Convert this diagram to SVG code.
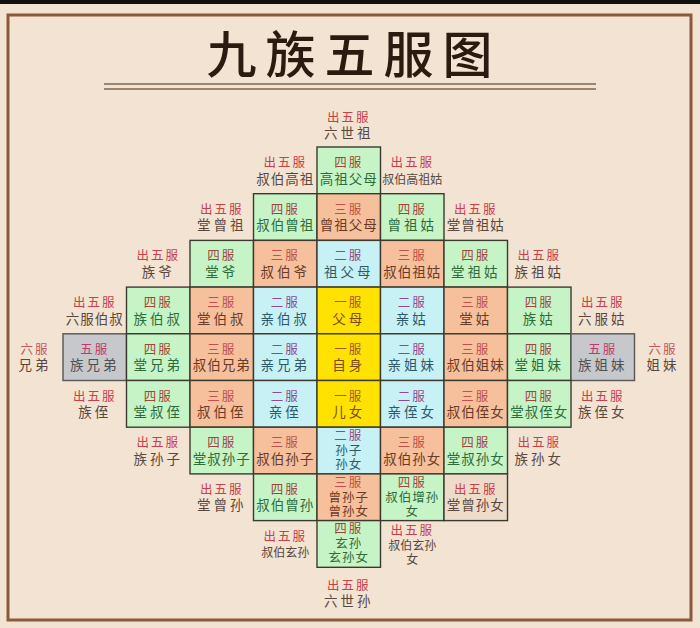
<svg xmlns="http://www.w3.org/2000/svg" width="700" height="628" viewBox="0 0 700 628">
<style>
text{font-family:"Liberation Sans","Noto Sans CJK SC",sans-serif;text-anchor:middle}
.c{stroke:#3c3a2e;stroke-width:1.4}
.g{fill:#c6f4c6}.o{fill:#f5c09b}.b{fill:#c8f1f5}.y{fill:#ffe200}.s{fill:#c6c8cb;stroke:#555}.e{fill:#eedccb}
.lb{font-size:12.5px;letter-spacing:2px}
.nm{font-size:13.5px;letter-spacing:1px}
.nm2{font-size:13.5px;letter-spacing:3px}
.sm{font-size:12px}
.t3{font-size:12.5px;letter-spacing:1px}
.lg{fill:#a0463c}.ng{fill:#2e6b3a}
.lo{fill:#c0504a}.no{fill:#6a3a28}
.lbb{fill:#8e4a8e}.nb{fill:#2e5a68}
.ly{fill:#a05a2a}.ny{fill:#7a4a1a}
.ls{fill:#c03a70}.ns{fill:#505050}
.lx{fill:#c8404a}.nx{fill:#5a4840}
.l6{fill:#c05a5a}
</style>
<rect width="700" height="628" fill="#f2e3d3"/>
<rect width="700" height="4" fill="#111"/>
<rect x="8" y="15" width="683" height="605" fill="none" stroke="#8a5a3a" stroke-width="3"/>
<g id="title">
<text x="354" y="73" font-size="50" font-weight="500" fill="#2a1a10" letter-spacing="9">九族五服图</text>
<line x1="104" y1="84" x2="596" y2="84" stroke="#9a8570" stroke-width="2"/>
<line x1="104" y1="89" x2="596" y2="89" stroke="#9a8570" stroke-width="2"/>
</g>
<g id="connectors"/>

<!-- row 0 -->
<g id="n-liushizu"><text x="348.75" y="122"><tspan class="lb lx">出五服</tspan><tspan class="nm2 nx" x="348.75" dy="15.5">六世祖</tspan></text></g>

<!-- row 1 -->
<g id="n-shubogaozu"><text x="285.25" y="167"><tspan class="lb lx">出五服</tspan><tspan class="nm nx" x="285.25" dy="16.5">叔伯高祖</tspan></text></g>
<g id="n-gaozufumu"><rect class="c g" x="317" y="147" width="63.5" height="46.7"/><text x="348.75" y="167"><tspan class="lb lg">四服</tspan><tspan class="nm ng" x="348.75" dy="16.5">高祖父母</tspan></text></g>
<g id="n-shubogaozugu"><text x="412.25" y="167"><tspan class="lb lx">出五服</tspan><tspan class="sm nx" x="412.25" dy="16.5">叔伯高祖姑</tspan></text></g>

<!-- row 2 -->
<g id="n-tangzengzu"><text x="221.75" y="213.7"><tspan class="lb lx">出五服</tspan><tspan class="nm2 nx" x="221.75" dy="16.5">堂曾祖</tspan></text></g>
<g id="n-shubozengzu"><rect class="c g" x="253.5" y="193.7" width="63.5" height="46.7"/><text x="285.25" y="213.7"><tspan class="lb lg">四服</tspan><tspan class="nm ng" x="285.25" dy="16.5">叔伯曾祖</tspan></text></g>
<g id="n-zengzufumu"><rect class="c o" x="317" y="193.7" width="63.5" height="46.7"/><text x="348.75" y="213.7"><tspan class="lb lo">三服</tspan><tspan class="nm no" x="348.75" dy="16.5">曾祖父母</tspan></text></g>
<g id="n-zengzugu"><rect class="c g" x="380.5" y="193.7" width="63.5" height="46.7"/><text x="412.25" y="213.7"><tspan class="lb lg">四服</tspan><tspan class="nm2 ng" x="412.25" dy="16.5">曾祖姑</tspan></text></g>
<g id="n-tangzengzugu"><text x="475.75" y="213.7"><tspan class="lb lx">出五服</tspan><tspan class="nm nx" x="475.75" dy="16.5">堂曾祖姑</tspan></text></g>

<!-- row 3 -->
<g id="n-zuye"><text x="158.25" y="260.4"><tspan class="lb lx">出五服</tspan><tspan class="nm2 nx" x="158.25" dy="16.5">族爷</tspan></text></g>
<g id="n-tangye"><rect class="c g" x="190" y="240.4" width="63.5" height="46.7"/><text x="221.75" y="260.4"><tspan class="lb lg">四服</tspan><tspan class="nm2 ng" x="221.75" dy="16.5">堂爷</tspan></text></g>
<g id="n-shuboye"><rect class="c o" x="253.5" y="240.4" width="63.5" height="46.7"/><text x="285.25" y="260.4"><tspan class="lb lo">三服</tspan><tspan class="nm2 no" x="285.25" dy="16.5">叔伯爷</tspan></text></g>
<g id="n-zufumu"><rect class="c b" x="317" y="240.4" width="63.5" height="46.7"/><text x="348.75" y="260.4"><tspan class="lb lbb">二服</tspan><tspan class="nm2 nb" x="348.75" dy="16.5">祖父母</tspan></text></g>
<g id="n-shubozugu"><rect class="c o" x="380.5" y="240.4" width="63.5" height="46.7"/><text x="412.25" y="260.4"><tspan class="lb lo">三服</tspan><tspan class="nm no" x="412.25" dy="16.5">叔伯祖姑</tspan></text></g>
<g id="n-tangzugu"><rect class="c g" x="444" y="240.4" width="63.5" height="46.7"/><text x="475.75" y="260.4"><tspan class="lb lg">四服</tspan><tspan class="nm2 ng" x="475.75" dy="16.5">堂祖姑</tspan></text></g>
<g id="n-zuzugu"><text x="539.25" y="260.4"><tspan class="lb lx">出五服</tspan><tspan class="nm2 nx" x="539.25" dy="16.5">族祖姑</tspan></text></g>

<!-- row 4 -->
<g id="n-liufuboshu"><text x="94.75" y="307.1"><tspan class="lb lx">出五服</tspan><tspan class="nm nx" x="94.75" dy="16.5">六服伯叔</tspan></text></g>
<g id="n-zuboshu"><rect class="c g" x="126.5" y="287.1" width="63.5" height="46.7"/><text x="158.25" y="307.1"><tspan class="lb lg">四服</tspan><tspan class="nm2 ng" x="158.25" dy="16.5">族伯叔</tspan></text></g>
<g id="n-tangboshu"><rect class="c o" x="190" y="287.1" width="63.5" height="46.7"/><text x="221.75" y="307.1"><tspan class="lb lo">三服</tspan><tspan class="nm2 no" x="221.75" dy="16.5">堂伯叔</tspan></text></g>
<g id="n-qinboshu"><rect class="c b" x="253.5" y="287.1" width="63.5" height="46.7"/><text x="285.25" y="307.1"><tspan class="lb lbb">二服</tspan><tspan class="nm2 nb" x="285.25" dy="16.5">亲伯叔</tspan></text></g>
<g id="n-fumu"><rect class="c y" x="317" y="287.1" width="63.5" height="46.7"/><text x="348.75" y="307.1"><tspan class="lb ly">一服</tspan><tspan class="nm2 ny" x="348.75" dy="16.5">父母</tspan></text></g>
<g id="n-qingu"><rect class="c b" x="380.5" y="287.1" width="63.5" height="46.7"/><text x="412.25" y="307.1"><tspan class="lb lbb">二服</tspan><tspan class="nm2 nb" x="412.25" dy="16.5">亲姑</tspan></text></g>
<g id="n-tanggu"><rect class="c o" x="444" y="287.1" width="63.5" height="46.7"/><text x="475.75" y="307.1"><tspan class="lb lo">三服</tspan><tspan class="nm2 no" x="475.75" dy="16.5">堂姑</tspan></text></g>
<g id="n-zugu"><rect class="c g" x="507.5" y="287.1" width="63.5" height="46.7"/><text x="539.25" y="307.1"><tspan class="lb lg">四服</tspan><tspan class="nm2 ng" x="539.25" dy="16.5">族姑</tspan></text></g>
<g id="n-liufugu"><text x="602.75" y="307.1"><tspan class="lb lx">出五服</tspan><tspan class="nm2 nx" x="602.75" dy="16.5">六服姑</tspan></text></g>

<!-- row 5 -->
<g id="n-liufuxiongdi"><text x="35" y="353.8"><tspan class="lb l6">六服</tspan><tspan class="nm2 nx" x="35" dy="16.5">兄弟</tspan></text></g>
<g id="n-zuxiongdi"><rect class="c s" x="63" y="333.8" width="63.5" height="46.7"/><text x="94.75" y="353.8"><tspan class="lb ls">五服</tspan><tspan class="nm2 ns" x="94.75" dy="16.5">族兄弟</tspan></text></g>
<g id="n-tangxiongdi"><rect class="c g" x="126.5" y="333.8" width="63.5" height="46.7"/><text x="158.25" y="353.8"><tspan class="lb lg">四服</tspan><tspan class="nm2 ng" x="158.25" dy="16.5">堂兄弟</tspan></text></g>
<g id="n-shuboxiongdi"><rect class="c o" x="190" y="333.8" width="63.5" height="46.7"/><text x="221.75" y="353.8"><tspan class="lb lo">三服</tspan><tspan class="nm no" x="221.75" dy="16.5">叔伯兄弟</tspan></text></g>
<g id="n-qinxiongdi"><rect class="c b" x="253.5" y="333.8" width="63.5" height="46.7"/><text x="285.25" y="353.8"><tspan class="lb lbb">二服</tspan><tspan class="nm2 nb" x="285.25" dy="16.5">亲兄弟</tspan></text></g>
<g id="n-zishen"><rect class="c y" x="317" y="333.8" width="63.5" height="46.7"/><text x="348.75" y="353.8"><tspan class="lb ly">一服</tspan><tspan class="nm2 ny" x="348.75" dy="16.5">自身</tspan></text></g>
<g id="n-qinjiemei"><rect class="c b" x="380.5" y="333.8" width="63.5" height="46.7"/><text x="412.25" y="353.8"><tspan class="lb lbb">二服</tspan><tspan class="nm2 nb" x="412.25" dy="16.5">亲姐妹</tspan></text></g>
<g id="n-shubojiemei"><rect class="c o" x="444" y="333.8" width="63.5" height="46.7"/><text x="475.75" y="353.8"><tspan class="lb lo">三服</tspan><tspan class="nm no" x="475.75" dy="16.5">叔伯姐妹</tspan></text></g>
<g id="n-tangjiemei"><rect class="c g" x="507.5" y="333.8" width="63.5" height="46.7"/><text x="539.25" y="353.8"><tspan class="lb lg">四服</tspan><tspan class="nm2 ng" x="539.25" dy="16.5">堂姐妹</tspan></text></g>
<g id="n-zujiemei"><rect class="c s" x="571" y="333.8" width="63.5" height="46.7"/><text x="602.75" y="353.8"><tspan class="lb ls">五服</tspan><tspan class="nm2 ns" x="602.75" dy="16.5">族姐妹</tspan></text></g>
<g id="n-liufujiemei"><text x="663" y="353.8"><tspan class="lb l6">六服</tspan><tspan class="nm2 nx" x="663" dy="16.5">姐妹</tspan></text></g>

<!-- row 6 -->
<g id="n-zuzhi"><text x="94.75" y="400.5"><tspan class="lb lx">出五服</tspan><tspan class="nm2 nx" x="94.75" dy="16.5">族侄</tspan></text></g>
<g id="n-tangshuzhi"><rect class="c g" x="126.5" y="380.5" width="63.5" height="46.7"/><text x="158.25" y="400.5"><tspan class="lb lg">四服</tspan><tspan class="nm2 ng" x="158.25" dy="16.5">堂叔侄</tspan></text></g>
<g id="n-shubozhi"><rect class="c o" x="190" y="380.5" width="63.5" height="46.7"/><text x="221.75" y="400.5"><tspan class="lb lo">三服</tspan><tspan class="nm2 no" x="221.75" dy="16.5">叔伯侄</tspan></text></g>
<g id="n-qinzhi"><rect class="c b" x="253.5" y="380.5" width="63.5" height="46.7"/><text x="285.25" y="400.5"><tspan class="lb lbb">二服</tspan><tspan class="nm2 nb" x="285.25" dy="16.5">亲侄</tspan></text></g>
<g id="n-ernv"><rect class="c y" x="317" y="380.5" width="63.5" height="46.7"/><text x="348.75" y="400.5"><tspan class="lb ly">一服</tspan><tspan class="nm2 ny" x="348.75" dy="16.5">儿女</tspan></text></g>
<g id="n-qinzhinv"><rect class="c b" x="380.5" y="380.5" width="63.5" height="46.7"/><text x="412.25" y="400.5"><tspan class="lb lbb">二服</tspan><tspan class="nm2 nb" x="412.25" dy="16.5">亲侄女</tspan></text></g>
<g id="n-shubozhinv"><rect class="c o" x="444" y="380.5" width="63.5" height="46.7"/><text x="475.75" y="400.5"><tspan class="lb lo">三服</tspan><tspan class="nm no" x="475.75" dy="16.5">叔伯侄女</tspan></text></g>
<g id="n-tangshuzhinv"><rect class="c g" x="507.5" y="380.5" width="63.5" height="46.7"/><text x="539.25" y="400.5"><tspan class="lb lg">四服</tspan><tspan class="nm ng" x="539.25" dy="16.5">堂叔侄女</tspan></text></g>
<g id="n-zuzhinv"><text x="602.75" y="400.5"><tspan class="lb lx">出五服</tspan><tspan class="nm2 nx" x="602.75" dy="16.5">族侄女</tspan></text></g>

<!-- row 7 -->
<g id="n-zusunzi"><text x="158.25" y="447.2"><tspan class="lb lx">出五服</tspan><tspan class="nm2 nx" x="158.25" dy="16.5">族孙子</tspan></text></g>
<g id="n-tangshusunzi"><rect class="c g" x="190" y="427.2" width="63.5" height="46.7"/><text x="221.75" y="447.2"><tspan class="lb lg">四服</tspan><tspan class="nm ng" x="221.75" dy="16.5">堂叔孙子</tspan></text></g>
<g id="n-shubosunzi"><rect class="c o" x="253.5" y="427.2" width="63.5" height="46.7"/><text x="285.25" y="447.2"><tspan class="lb lo">三服</tspan><tspan class="nm no" x="285.25" dy="16.5">叔伯孙子</tspan></text></g>
<g id="n-sunzisunnv"><rect class="c b" x="317" y="427.2" width="63.5" height="46.7"/><text x="348.75" y="440"><tspan class="lb lbb">二服</tspan><tspan class="t3 nb" x="348.75" dy="15">孙子</tspan><tspan class="t3 nb" x="348.75" dy="14">孙女</tspan></text></g>
<g id="n-shubosunnv"><rect class="c o" x="380.5" y="427.2" width="63.5" height="46.7"/><text x="412.25" y="447.2"><tspan class="lb lo">三服</tspan><tspan class="nm no" x="412.25" dy="16.5">叔伯孙女</tspan></text></g>
<g id="n-tangshusunnv"><rect class="c g" x="444" y="427.2" width="63.5" height="46.7"/><text x="475.75" y="447.2"><tspan class="lb lg">四服</tspan><tspan class="nm ng" x="475.75" dy="16.5">堂叔孙女</tspan></text></g>
<g id="n-zusunnv"><text x="539.25" y="447.2"><tspan class="lb lx">出五服</tspan><tspan class="nm2 nx" x="539.25" dy="16.5">族孙女</tspan></text></g>

<!-- row 8 -->
<g id="n-tangzengsun"><text x="221.75" y="493.9"><tspan class="lb lx">出五服</tspan><tspan class="nm2 nx" x="221.75" dy="16.5">堂曾孙</tspan></text></g>
<g id="n-shubozengsun"><rect class="c g" x="253.5" y="473.9" width="63.5" height="46.7"/><text x="285.25" y="493.9"><tspan class="lb lg">四服</tspan><tspan class="nm ng" x="285.25" dy="16.5">叔伯曾孙</tspan></text></g>
<g id="n-zengsun"><rect class="c o" x="317" y="473.9" width="63.5" height="46.7"/><text x="348.75" y="486.7"><tspan class="lb lo">三服</tspan><tspan class="t3 no" x="348.75" dy="15">曾孙子</tspan><tspan class="t3 no" x="348.75" dy="14">曾孙女</tspan></text></g>
<g id="n-shubozengsunnv"><rect class="c g" x="380.5" y="473.9" width="63.5" height="46.7"/><text x="412.25" y="486.7"><tspan class="lb lg">四服</tspan><tspan class="t3 ng" x="412.25" dy="15">叔伯增孙</tspan><tspan class="t3 ng" x="412.25" dy="14">女</tspan></text></g>
<g id="n-tangzengsunnv"><rect class="c e" x="444" y="473.9" width="63.5" height="46.7"/><text x="475.75" y="493.9"><tspan class="lb lx">出五服</tspan><tspan class="nm nx" x="475.75" dy="16.5">堂曾孙女</tspan></text></g>

<!-- row 9 -->
<g id="n-shuboxuansun"><text x="285.25" y="540.6"><tspan class="lb lx">出五服</tspan><tspan class="sm nx" x="285.25" dy="16.5">叔伯玄孙</tspan></text></g>
<g id="n-xuansun"><rect class="c g" x="317" y="520.6" width="63.5" height="46.7"/><text x="348.75" y="533.4"><tspan class="lb lg">四服</tspan><tspan class="t3 ng" x="348.75" dy="15">玄孙</tspan><tspan class="t3 ng" x="348.75" dy="14">玄孙女</tspan></text></g>
<g id="n-shuboxuansunnv"><text x="412.25" y="534.6"><tspan class="lb lx">出五服</tspan><tspan class="sm nx" x="412.25" dy="15">叔伯玄孙</tspan><tspan class="sm nx" x="412.25" dy="14">女</tspan></text></g>

<!-- row 10 -->
<g id="n-liushisun"><text x="348.75" y="590"><tspan class="lb lx">出五服</tspan><tspan class="nm2 nx" x="348.75" dy="16">六世孙</tspan></text></g>
</svg>
